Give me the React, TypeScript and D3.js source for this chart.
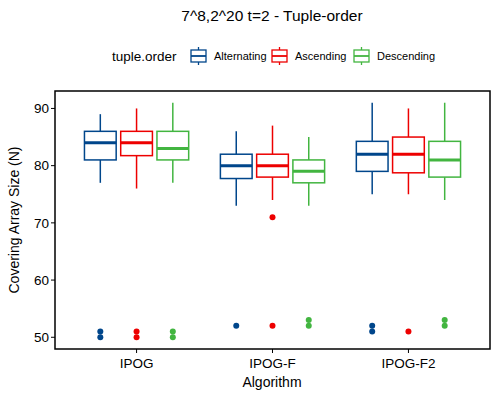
import React from "react";
import * as d3 from "d3";

// categories and groups
const algorithms = ["IPOG", "IPOG-F", "IPOG-F2"];
const orders = ["Alternating", "Ascending", "Descending"];
const colors = ["#00468B", "#ED0000", "#42B540"];

// box stats per algorithm x order: [low whisker, q1, median, q3, high whisker]
const alternatingStats = [
  [77, 81, 84, 86, 89],
  [73, 77.75, 80, 82, 86],
  [75, 79, 82, 84.25, 91],
];
const ascendingStats = [
  [76, 81.75, 84, 86, 90],
  [74, 78, 80, 82, 87],
  [75, 78.75, 82, 85, 90],
];
const descendingStats = [
  [77, 81, 83, 86, 91],
  [73, 77, 79, 81, 85],
  [74, 78, 81, 84.25, 91],
];

// outliers per algorithm x order
const alternatingOutliers = [[50, 51], [52], [51, 52]];
const ascendingOutliers = [[50, 51], [52, 71], [51]];
const descendingOutliers = [[50, 51], [52, 53], [52, 53]];

const yTicks = [50, 60, 70, 80, 90];

const W = 500;
const H = 400;
const m = { left: 55, right: 10, top: 91, bottom: 51 };

export default function App() {
  const stats = [alternatingStats, ascendingStats, descendingStats];
  const outliers = [alternatingOutliers, ascendingOutliers, descendingOutliers];

  // discrete axis with 0.6 expansion on each side
  const xc = d3
    .scaleLinear()
    .domain([0.4, 3.6])
    .range([m.left, W - m.right]);
  const unit = xc(2) - xc(1);
  const dodge = 0.8 / 3;
  const boxW = (0.7 / 3) * unit;

  const y = d3
    .scaleLinear()
    .domain([47.95, 93.05])
    .range([H - m.bottom, m.top]);

  const font = "Liberation Sans, Arial, sans-serif";

  return (
    <svg
      width={W}
      height={H}
      style={{ position: "absolute", left: 0, top: 0, background: "white" }}
      fontFamily={font}
    >
      <text x={272} y={21} textAnchor="middle" fontSize={15.5} fill="#000">
        7^8,2^20 t=2 - Tuple-order
      </text>

      {/* legend */}
      <g>
        <text x={112} y={61} fontSize={13.5} fill="#000">
          tuple.order
        </text>
        {orders.map((o, i) => {
          const kx = [190, 271, 353][i];
          return (
            <g key={o} stroke={colors[i]} strokeWidth={1.3} fill="white">
              <line x1={kx + 8.5} x2={kx + 8.5} y1={47} y2={65} />
              <rect x={kx + 1} y={50} width={15} height={12} />
              <line x1={kx + 1} x2={kx + 16} y1={56} y2={56} strokeWidth={1.8} />
              <text x={kx + 24} y={60} fontSize={11} fill="#000" stroke="none">
                {o}
              </text>
            </g>
          );
        })}
      </g>

      {/* boxes */}
      {algorithms.map((a, ai) =>
        orders.map((o, oi) => {
          const cx = xc(ai + 1 + (oi - 1) * dodge);
          const [lo, q1, med, q3, hi] = stats[oi][ai];
          const c = colors[oi];
          return (
            <g key={a + o} stroke={c}>
              <line x1={cx} x2={cx} y1={y(hi)} y2={y(q3)} strokeWidth={1.5} />
              <line x1={cx} x2={cx} y1={y(q1)} y2={y(lo)} strokeWidth={1.5} />
              <rect
                x={cx - boxW / 2}
                y={y(q3)}
                width={boxW}
                height={y(q1) - y(q3)}
                fill="white"
                strokeWidth={1.5}
              />
              <line
                x1={cx - boxW / 2}
                x2={cx + boxW / 2}
                y1={y(med)}
                y2={y(med)}
                strokeWidth={3}
              />
              {outliers[oi][ai].map((v, k) => (
                <circle key={k} cx={cx} cy={y(v)} r={3} fill={c} stroke="none" />
              ))}
            </g>
          );
        })
      )}

      {/* panel border */}
      <rect
        x={m.left}
        y={m.top}
        width={W - m.left - m.right}
        height={H - m.top - m.bottom}
        fill="none"
        stroke="#000"
        strokeWidth={1.5}
      />

      {/* y axis */}
      {yTicks.map((t) => (
        <g key={t}>
          <line x1={m.left - 4} x2={m.left} y1={y(t)} y2={y(t)} stroke="#000" />
          <text
            x={m.left - 6}
            y={y(t)}
            dy="0.35em"
            textAnchor="end"
            fontSize={13.5}
            fill="#000"
          >
            {t}
          </text>
        </g>
      ))}
      <text
        transform={`translate(19,${(m.top + H - m.bottom) / 2}) rotate(-90)`}
        textAnchor="middle"
        fontSize={14}
        fill="#000"
      >
        Covering Array Size (N)
      </text>

      {/* x axis */}
      {algorithms.map((a, ai) => (
        <g key={a}>
          <line
            x1={xc(ai + 1)}
            x2={xc(ai + 1)}
            y1={H - m.bottom}
            y2={H - m.bottom + 4}
            stroke="#000"
          />
          <text
            x={xc(ai + 1)}
            y={H - m.bottom + 19}
            textAnchor="middle"
            fontSize={13.5}
            fill="#000"
          >
            {a}
          </text>
        </g>
      ))}
      <text x={272} y={387} textAnchor="middle" fontSize={14} fill="#000">
        Algorithm
      </text>
    </svg>
  );
}
